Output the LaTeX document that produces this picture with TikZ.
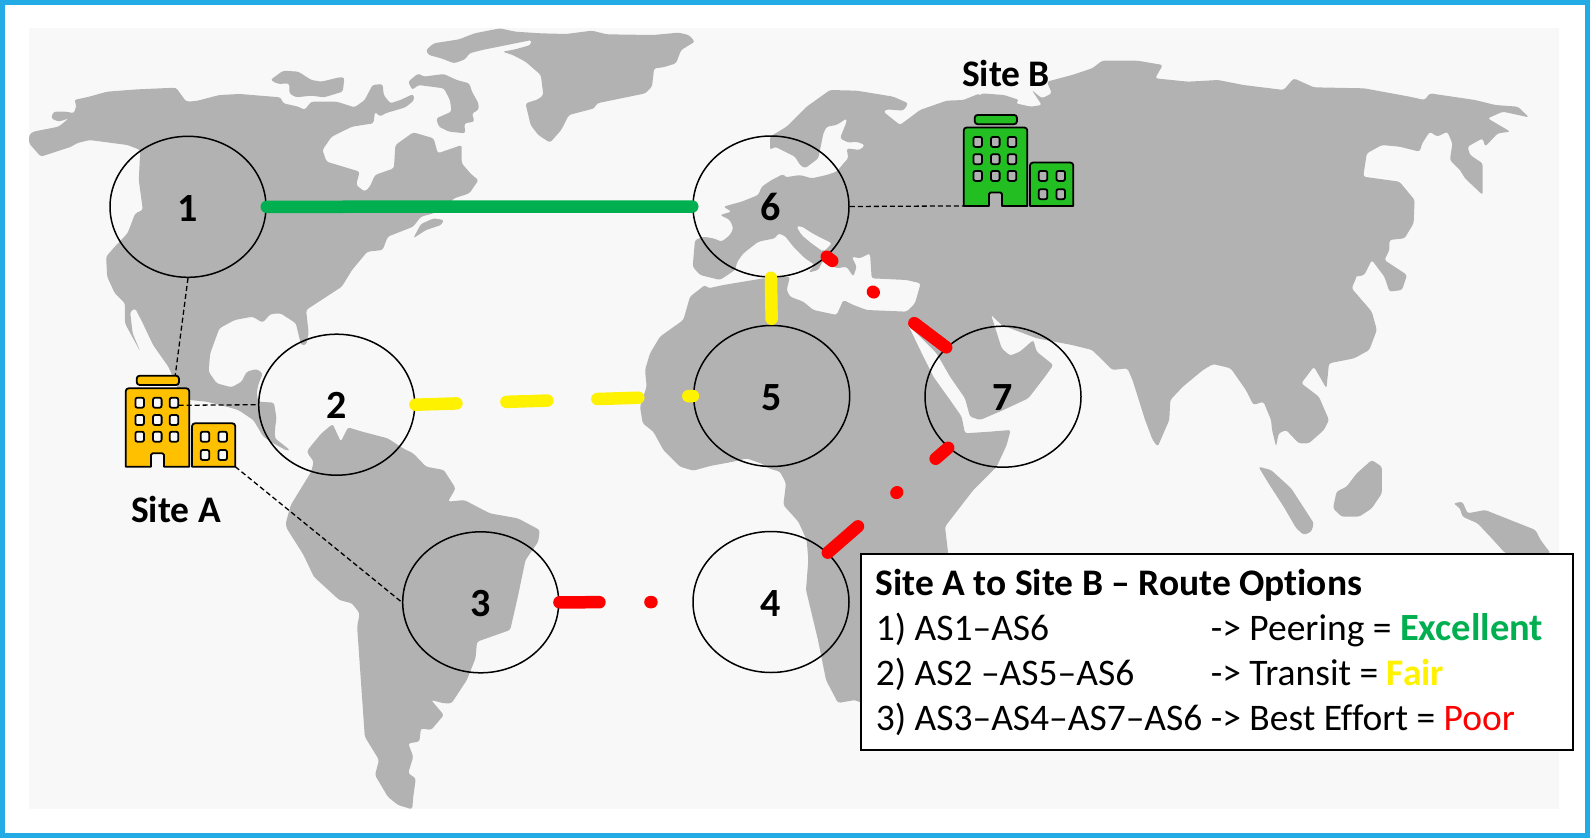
\documentclass[tikz,border=0pt]{standalone}
\usepackage{fontspec}
\setmainfont[Ligatures={NoCommon,NoContextual}]{Carlito}
\usetikzlibrary{shapes.geometric}
\definecolor{frameblue}{RGB}{34,171,228}
\definecolor{paper}{RGB}{248,248,248}
\definecolor{land}{RGB}{178,178,178}
\definecolor{amber}{RGB}{255,192,0}
\definecolor{leaf}{RGB}{34,190,34}
\definecolor{gooda}{RGB}{0,176,80}
\newcommand{\dgt}[1]{\raisebox{-14.2pt}[15pt][15pt]{#1}}
\tikzset{
  pad/.style={ellipse,draw=black,line width=1.5pt,minimum width=156pt,minimum height=141pt,inner sep=0pt,
    font=\fontsize{40}{40}\selectfont\bfseries},
  landfill/.style={fill=land,draw=none,rounded corners=2.5pt},
  ztl/.style={shift={(0pt,0pt)},x=0.5102pt,y=-0.33333pt},
  ztr/.style={shift={(800pt,0pt)},x=0.50378pt,y=-0.33333pt},
  zbl/.style={shift={(0pt,-420pt)},x=0.5102pt,y=-0.33333pt},
  zbr/.style={shift={(800pt,-420pt)},x=0.50378pt,y=-0.33333pt},
  zeu/.style={shift={(680pt,-70pt)},x=0.33333pt,y=-0.33333pt},
  routeg/.style={line width=12.5pt,color=gooda,line cap=round},
  routey/.style={line width=12.5pt,color=yellow,line cap=round,dash pattern=on 41pt off 50pt},
  router/.style={line width=12.5pt,color=red,line cap=round,dash pattern=on 40pt off 51pt on 1pt off 51pt},
  tether/.style={line width=1.3pt,dash pattern=on 5pt off 3pt,black},
  sitelab/.style={font=\fontsize{37.5}{37.5}\selectfont\bfseries,inner sep=0pt,anchor=base},
  legt/.style={font=\fontsize{37.5}{37.5}\selectfont\bfseries,inner sep=0pt,anchor=base west},
  legr/.style={font=\fontsize{37.5}{37.5}\selectfont,inner sep=0pt,anchor=base west},
  pics/bldg/.style={code={
    \draw[line width=1.8pt,fill=#1,even odd rule,line join=round]
      (0,78.4) [rounded corners=3pt] -- (0,0) -- (63.6,0) [sharp corners] -- (63.6,78.4) -- (38.3,78.4)
      [rounded corners=1.5pt] -- (38.3,65) -- (25.3,65) [sharp corners] -- (25.3,78.4) -- cycle
      [rounded corners=2pt]
      (9.7,9.4) rectangle (18.3,19.4) (27.3,9.4) rectangle (35.9,19.4) (44,9.4) rectangle (52.6,19.4)
      (9.7,26.7) rectangle (18.3,36.7) (27.3,26.7) rectangle (35.9,36.7) (44,26.7) rectangle (52.6,36.7)
      (9.7,43.4) rectangle (18.3,53.4) (27.3,43.4) rectangle (35.9,53.4) (44,43.4) rectangle (52.6,53.4);
    \draw[line width=1.8pt,fill=#1,even odd rule,line join=round]
      (66.3,78.4) [rounded corners=3pt] -- (66.3,35) -- (109.6,35) [sharp corners] -- (109.6,78.4) -- cycle
      [rounded corners=2pt]
      (75,43.4) rectangle (83.6,53.4) (92.7,43.4) rectangle (101.3,53.4)
      (75,61.7) rectangle (83.6,71.7) (92.7,61.7) rectangle (101.3,71.7);
    \draw[line width=1.8pt,fill=#1,rounded corners=3pt] (11,-3.3) -- (11,-12.6) -- (53.3,-12.6) -- (53.3,-3.3) -- cycle;
    \coordinate (-roof) at (49.5,-12.6);
    \coordinate (-win) at (53,17);
    \coordinate (-foot) at (109.6,78.4);
    \coordinate (-west) at (0,78.4);
  }}
}
\begin{document}
\begin{tikzpicture}[x=1pt,y=-1pt]
\useasboundingbox (0,0) rectangle (1590,838);
\fill[frameblue] (0,0) rectangle (1590,838);
\fill[white] (5,5) rectangle (1585,833);
\fill[paper] (29,28) rectangle (1559,809);

% North America, Greenland, arctic islands
\begin{scope}[ztl]
\fill[landfill] (835,150)--(850,130)--(900,118)--(930,100)--(980,85)--(1010,95)--(1060,100)--(1110,102)--(1160,92)--(1190,103)--(1280,105)--(1330,98)--(1350,105)--(1362,125)--(1335,150)--(1325,190)--(1300,202)--(1282,205)--(1278,260)--(1265,280)--(1170,310)--(1165,325)--(1115,345)--(1100,390)--(1078,428)--(1055,405)--(1040,375)--(1030,310)--(1055,298)--(1065,285)--(1060,225)--(1030,185)--(1005,165)--(985,155)--(1010,148)--(1040,135)--(1042,120)--(1010,130)--(945,150)--(920,160)--(912,178)--(890,190)--(865,175)--(840,165)--cycle;
\fill[landfill] (530,240)--(555,212)--(585,215)--(610,240)--(630,245)--(665,232)--(675,232)--(672,275)--(635,292)--(610,287)--(580,292)--(567,280)--(567,250)--(545,252)--cycle;
\fill[landfill] (800,245)--(820,220)--(830,230)--(870,222)--(895,240)--(920,250)--(925,275)--(938,310)--(938,330)--(925,340)--(930,365)--(910,370)--(912,400)--(880,395)--(860,380)--(855,355)--(885,335)--(882,300)--(870,265)--(820,255)--(808,270)--cycle;
\fill[landfill] (57,405)--(65,395)--(115,380)--(135,355)--(115,365)--(100,355)--(105,335)--(130,335)--(145,340)--(150,315)--(145,300)--(175,290)--(210,275)--(270,268)--(345,263)--(365,305)--(385,303)--(430,285)--(470,282)--(550,292)--(555,310)--(585,320)--(597,330)--(610,305)--(660,305)--(695,322)--(715,300)--(730,255)--(750,252)--(752,285)--(765,310)--(785,300)--(810,282)--(812,300)--(795,322)--(755,340)--(745,350)--(735,335)--(732,370)--(690,380)--(650,410)--(632,450)--(640,485)--(705,515)--(698,555)--(715,575)--(725,560)--(735,525)--(772,505)--(775,435)--(810,397)--(850,415)--(858,460)--(905,435)--(905,490)--(925,525)--(938,540)--(920,580)--(890,595)--(880,610)--(850,640)--(825,650)--(810,680)--(760,710)--(750,750)--(720,755)--(690,810)--(670,860)--(600,930)--(605,1000)--(600,1035)--(590,1035)--(580,970)--(550,940)--(530,942)--(515,968)--(495,950)--(460,960)--(430,985)--(412,1060)--(408.8,1115)--(424.7,1150)--(454,1162)--(473.6,1145)--(483.5,1115)--(503,1107)--(515,1120)--(506,1155)--(503,1180)--(506,1205)--(537,1208)--(542,1255)--(539,1285)--(539,1315)--(568.4,1350)--(562,1352)--(536,1330)--(516,1310)--(496.6,1260)--(467,1230)--(444,1220)--(405,1205)--(371,1200)--(350,1170)--(330,1100)--(300,1035)--(280,970)--(265,925)--(255,935)--(260,1000)--(275,1055)--(245,970)--(245,910)--(225,880)--(210,830)--(208,770)--(225,740)--(250,700)--(265,640)--(280,630)--(272,540)--(275,450)--(250,435)--(175,420)--(150,430)--(140,440)--(80,470)--(57,430)--cycle;
\fill[landfill] (810,715)--(825,672)--(850,655)--(870,660)--(865,675)--(835,690)--cycle;
\end{scope}

% South America
\begin{scope}[zbl]
\fill[landfill] (603,90)--(630,40)--(652,12)--(668,65)--(682,22)--(710,35)--(760,55)--(790,85)--(810,100)--(835,140)--(870,150)--(893,205)--(878,245)--(910,240)--(960,280)--(1015,295)--(1058,330)--(1055,365)--(1030,420)--(1015,530)--(1000,630)--(935,665)--(932,715)--(915,780)--(885,850)--(870,850)--(845,840)--(870,885)--(845,930)--(825,925)--(822,965)--(800,970)--(810,1010)--(800,1060)--(815,1075)--(810,1130)--(808,1168)--(780,1155)--(760,1130)--(735,1065)--(743,1020)--(715,950)--(700,620)--(705,580)--(690,550)--(665,540)--(615,470)--(595,405)--(562,325)--(560,310)--(570,255)--(610,155)--(615,125)--(603,100)--cycle;
\end{scope}

% Europe and Africa
\begin{scope}[zeu]
\fill[landfill] (900,70)--(850,90)--(800,92)--(720,120)--(660,165)--(610,125)--(620,118)--(670,122)--(685,100)--(640,80)--(530,62)--(450,60)--(380,110)--(320,170)--(270,200)--(270,240)--(285,230)--(345,260)--(360,285)--(375,295)--(415,265)--(420,240)--(430,190)--(440,170)--(470,165)--(500,145)--(500,155)--(480,205)--(505,218)--(530,215)--(555,225)--(540,240)--(500,235)--(505,265)--(495,275)--(470,305)--(440,315)--(395,325)--(360,315)--(315,322)--(310,312)--(275,330)--(245,350)--(235,375)--(185,395)--(130,410)--(155,425)--(120,435)--(150,450)--(160,475)--(150,495)--(125,515)--(100,505)--(70,500)--(45,510)--(38,590)--(60,615)--(120,630)--(165,600)--(172,575)--(190,550)--(235,515)--(285,505)--(295,490)--(315,498)--(340,530)--(375,565)--(405,585)--(385,608)--(415,600)--(430,570)--(470,595)--(500,590)--(520,620)--(530,590)--(515,560)--(540,565)--(570,550)--(575,625)--(680,630)--(722,640)--(705,700)--(680,725)--(560,720)--(520,705)--(490,690)--(470,735)--(400,720)--(370,695)--(330,680)--(320,660)--(330,620)--(250,625)--(130,645)--(85,655)--(75,645)--(30,680)--(10,750)--(-60,800)--(-90,850)--(-105,900)--(-100,950)--(-120,1010)--(-112,1060)--(-80,1085)--(-50,1140)--(0,1190)--(40,1202)--(90,1188)--(160,1175)--(200,1165)--(250,1183)--(265,1195)--(300,1205)--(318,1240)--(310,1305)--(355,1355)--(380,1410)--(385,1470)--(378,1560)--(414,1710)--(438,1830)--(474,1899)--(525,1890)--(660,1950)--(810,1590)--(804,1446)--(795,1370)--(880,1260)--(950,1190)--(980,1125)--(992,1080)--(930,1085)--(855,1090)--(845,1040)--(810,990)--(760,920)--(730,860)--(683,762)--(710,790)--(770,850)--(810,920)--(855,985)--(870,1040)--(900,1050)--(970,1020)--(1045,985)--(1095,920)--(1120,885)--(1070,845)--(1060,810)--(1020,845)--(990,857)--(965,835)--(935,740)--cycle;
\fill[paper,rounded corners=2pt] (350,470)--(362,468)--(400,492)--(455,520)--(430,545)--(395,520)--(365,495)--cycle;
\end{scope}

% Asia and the islands
\begin{scope}[ztr]
\fill[landfill] (360,280)--(405,285)--(435,300)--(428,310)--(458,320)--(480,315)--(460,270)--(480,295)--(500,280)--(490,245)--(540,225)--(580,205)--(600,182)--(670,182)--(720,195)--(705,235)--(770,245)--(830,240)--(880,255)--(960,270)--(980,235)--(1020,262)--(1120,265)--(1210,290)--(1240,300)--(1250,280)--(1340,300)--(1380,315)--(1425,320)--(1447,352)--(1395,335)--(1365,355)--(1410,395)--(1385,400)--(1360,440)--(1355,415)--(1325,440)--(1330,465)--(1355,490)--(1355,585)--(1320,535)--(1310,510)--(1290,480)--(1295,430)--(1285,395)--(1265,410)--(1250,395)--(1235,430)--(1230,455)--(1190,440)--(1155,435)--(1125,460)--(1118,530)--(1190,545)--(1220,600)--(1218,670)--(1200,715)--(1170,720)--(1170,750)--(1160,780)--(1205,825)--(1195,870)--(1170,875)--(1160,830)--(1135,780)--(1120,825)--(1105,830)--(1060,825)--(1080,770)--(1100,755)--(1105,830)--(1095,865)--(1135,935)--(1145,990)--(1130,1050)--(1100,1075)--(1050,1090)--(1045,1165)--(1020,1100)--(995,1150)--(1030,1190)--(1050,1260)--(1040,1290)--(1010,1330)--(990,1330)--(965,1290)--(950,1300)--(945,1340)--(937,1290)--(935,1260)--(920,1205)--(900,1215)--(885,1170)--(855,1105)--(820,1092)--(800,1110)--(760,1160)--(735,1200)--(733,1260)--(710,1340)--(700,1320)--(685,1260)--(660,1140)--(650,1105)--(620,1110)--(580,1050)--(540,1035)--(470,1015)--(400,975)--(380,945)--(300,900)--(300,400)--cycle;
\end{scope}
\begin{scope}[zbr]
\fill[landfill] (910,140)--(935,150)--(975,205)--(1020,310)--(1015,335)--(1000,345)--(985,325)--(960,260)--(930,190)--cycle;
\fill[landfill] (1135,120)--(1155,140)--(1155,220)--(1135,265)--(1110,290)--(1075,290)--(1058,265)--(1065,215)--(1085,200)--(1105,160)--cycle;
\fill[landfill] (1297,250)--(1315,245)--(1325,280)--(1360,270)--(1410,300)--(1460,330)--(1470,360)--(1490,400)--(1400,400)--(1370,350)--(1345,310)--(1315,290)--(1310,265)--cycle;
\end{scope}

% Autonomous-system circles
\node[pad] (c1) at (188,206.8) {\dgt{1}};
\node[pad] (c2) at (336.7,404.7) {\dgt{2}};
\node[pad] (c3) at (480.7,602.3) {\dgt{3}};
\node[pad] (c4) at (771,602) {\dgt{4}};
\node[pad] (c5) at (771.7,396) {\dgt{5}};
\node[pad] (c6) at (771,206.5) {\dgt{6}};
\node[pad] (c7) at (1003,396.7) {\dgt{7}};

% Sites
\pic (bA) at (125.7,388.3) {bldg=amber};
\pic (bB) at (963.7,127.5) {bldg=leaf};
\node[sitelab] (sA) at (176,522) {Site A};
\node[sitelab] (sB) at (1006,86) {Site B};

% Tethers
\draw[tether] (c1.south) -- (bA-roof);
\draw[tether] (bA-win) -- (c2.west);
\draw[tether] (bA-foot) -- (c3.west);
\draw[tether] (c6.east) -- (bB-west);

% Routes
\draw[routeg] (c1.east) -- (c6.west);
\draw[routey] (c2.east) -- (c5.west);
\draw[routey] (c6.south) -- (c5.north);
\draw[router] (c3.east) -- (c4.west);
\draw[router] (c4.41) -- (c7.223);
\draw[router] (c7.139) -- (c6.-42);

% Legend
\node[draw=black,line width=2pt,fill=white,minimum width=712pt,minimum height=196pt,anchor=north west,inner sep=0pt] (box) at (860,552.5) {};
\node[legt] (lt) at (875.6,595.5) {Site A to Site B – Route Options};
\node[legr] (r1) at (875.6,640.5) {1) AS1–AS6};
\node[legr] (r2) at (875.6,685.5) {2) AS2 –AS5–AS6};
\node[legr] (r3) at (875.6,730.5) {3) AS3–AS4–AS7–AS6};
\node[legr] (q1) at (1210.6,640.5) {-> Peering = \textcolor{gooda}{\fontsize{38.5}{38.5}\selectfont\bfseries Excellent}};
\node[legr] (q2) at (1210.6,685.5) {-> Transit = \textcolor{yellow}{\bfseries Fair}};
\node[legr] (q3) at (1210.6,730.5) {-> Best Effort = \textcolor{red}{Poor}};
\end{tikzpicture}
\end{document}
